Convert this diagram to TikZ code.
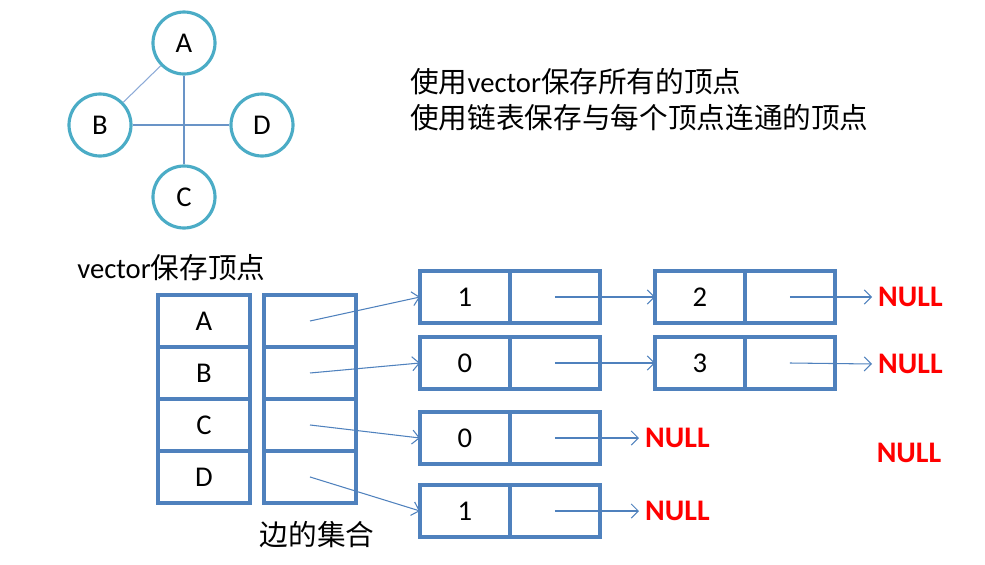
\documentclass[tikz,border=0pt]{standalone}
\usepackage{fontspec}
\setmainfont{Carlito}
\newfontfamily\cjk{Noto Sans CJK SC}
\usepackage{tikz}
\usetikzlibrary{arrows.meta,positioning}
\definecolor{cellBlue} {RGB}{79, 129, 189}
\definecolor{ringTeal} {RGB}{75, 172, 198}
\definecolor{edgeBlue} {RGB}{140,170, 215}
\definecolor{nullRed}  {RGB}{255, 0,   0}
\newcommand{\zh}[1]{{\cjk #1}}

\begin{document}
\begin{tikzpicture}[x=0.02cm,y=-0.02cm,
    every node/.style={font=\fontsize{16.3}{19.5}\selectfont},
    vertex/.style={circle,draw=ringTeal,line width=1.8pt,minimum size=1.24cm,inner sep=0pt},
    cell/.style={draw=cellBlue,line width=1.9pt,minimum width=1.84cm,minimum height=1.04cm,
                 inner sep=0pt,outer sep=0pt},
    lcell/.style={cell,minimum width=1.8cm},
    link/.style={-{Straight Barb[length=4pt,width=8pt]},cellBlue,line width=0.6pt},
    nullmark/.style={font=\fontsize{17}{20}\selectfont\bfseries,nullRed},
    label/.style={anchor=west,inner sep=0pt}]

    \useasboundingbox (0,0) rectangle (985,565);

    % ─── Grafo ────────────────────────────────────────────
    \node[vertex] (A) at (184,43)  {A};
    \node[vertex] (B) at (100,125) {B};
    \node[vertex] (D) at (262,125) {D};
    \node[vertex] (C) at (184,197) {C};
    \draw[edgeBlue,line width=0.6pt] (A) -- (B);
    \draw[cellBlue!85,line width=0.8pt] (A) -- (C);
    \draw[cellBlue!85,line width=0.8pt] (B) -- (D);

    % ─── Texto ────────────────────────────────────────────
    \node[label] (note1) at (410,82)  {\zh{使用}vector\zh{保存所有的顶点}};
    \node[label] (note2) at (410,118) {\zh{使用链表保存与每个顶点连通的顶点}};

    % ─── vector de vertices ───────────────────────────────
    \node[label] (vtitle) at (77,268) {vector\zh{保存顶点}};
    \node[cell] (va) at (204,321) {A};
    \foreach \p/\q/\t in {a/b/B,b/c/C,c/d/D}{
      \node[cell,below=0pt of v\p] (v\q) {\t};
    }
    \node[cell] (ea) at (310,321) {};
    \foreach \p/\q in {a/b,b/c,c/d}{
      \node[cell,below=0pt of e\p] (e\q) {};
    }
    \node (etitle) at (317,535) {\zh{边的集合}};

    % ─── Listas ───────────────────────────────────────────
    \foreach \row/\y/\val in {1/297/1,2/363/0,3/438/0,4/511/1}{
      \node[lcell] (\row-val1) at (465,\y) {\val};
      \node[lcell,right=0pt of \row-val1] (\row-ptr1) {};
    }
    \node[lcell] (1-val2) at (700,297) {2};
    \node[lcell,right=0pt of 1-val2] (1-ptr2) {};
    \node[lcell] (2-val2) at (700,363) {3};
    \node[lcell,right=0pt of 2-val2] (2-ptr2) {};

    \node[nullmark,anchor=west] (1-null) at (872,297) {NULL};
    \node[nullmark,anchor=west] (2-null) at (872,364) {NULL};
    \node[nullmark,anchor=west] (3-null) at (639,438) {NULL};
    \node[nullmark,anchor=west] (4-null) at (639,511) {NULL};
    \node[nullmark] (spare) at (909,453) {NULL};

    % Setas
    \foreach \e/\row in {a/1,b/2,c/3,d/4}{
      \draw[link] (e\e.center) -- (\row-val1.west);
    }
    \draw[link] (1-ptr1.center) -- (1-val2.west);
    \draw[link] (2-ptr1.center) -- (2-val2.west);
    \draw[link] (1-ptr2.center) -- (1-null.west);
    \draw[link] (2-ptr2.center) -- (2-null.west);
    \draw[link] (3-ptr1.center) -- (3-null.west);
    \draw[link] (4-ptr1.center) -- (4-null.west);

\end{tikzpicture}
\end{document}
